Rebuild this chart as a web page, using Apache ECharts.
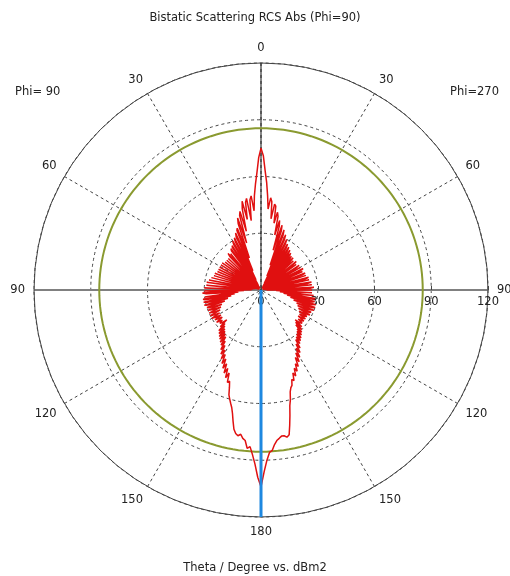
<!DOCTYPE html>
<html>
<head>
<meta charset="utf-8">
<script src="https://cdn.jsdelivr.net/npm/echarts@6/dist/echarts.min.js"></script>
<style>
  html, body { margin: 0; padding: 0; background: #fff; }
  #chart { width: 510px; height: 576px; }
</style>
</head>
<body>
<div id="chart"></div>
<script>
// Bistatic RCS cut, theta = 0..180 deg in 1 deg steps, dBm2 (radial axis 0..120)
// Right half of the plot: Phi = 270
const rcsPhi270 = [
  75, 71, 63, 57, 50, 43, 49, 47, 38, 46,
  45, 36, 42, 40, 30, 38, 35, 22, 36, 33,
  14, 34, 31, 8, 32, 29, 4, 30, 27, 2,
  28, 26, 3, 27, 25, 1, 26, 24, 2, 25,
  23, 1, 24, 22, 3, 24, 21, 1, 23, 22,
  2, 24, 21, 1, 23, 22, 3, 24, 22, 1,
  24, 23, 2, 25, 22, 1, 24, 23, 3, 25,
  23, 1, 25, 24, 2, 26, 24, 1, 26, 25,
  4, 27, 25, 2, 27, 26, 5, 28, 26, 3,
  27, 26, 8, 27, 26, 10, 28, 27, 12, 29,
  28, 14, 29, 28, 16, 30, 28, 18, 30, 29,
  20, 30, 28, 21, 29, 28, 22, 29, 27, 23,
  28, 27, 24, 28, 27, 24, 28, 27, 25, 28,
  27, 24, 29, 25, 30, 26, 31, 28, 32, 29,
  33, 30, 34, 31, 35, 32, 37, 34, 39, 36,
  41, 38, 43, 40, 45, 43, 47, 45, 49, 47,
  51, 50, 53, 54, 56, 60, 63, 68, 73, 78,
  79, 78, 78, 79, 80, 82, 85, 86, 90, 96,
  104
];
// Left half of the plot: Phi = 90
const rcsPhi90 = [
  75, 70, 62, 56, 50, 42, 50, 48, 37, 49,
  47, 38, 48, 44, 32, 43, 41, 26, 40, 37,
  18, 35, 34, 11, 33, 31, 6, 31, 29, 3,
  30, 28, 2, 28, 27, 4, 27, 26, 1, 26,
  25, 3, 26, 24, 2, 25, 24, 1, 25, 24,
  3, 25, 24, 2, 26, 25, 1, 26, 25, 3,
  26, 25, 2, 26, 25, 1, 26, 25, 4, 27,
  26, 2, 27, 26, 5, 28, 27, 3, 29, 28,
  6, 30, 29, 4, 30, 29, 8, 31, 30, 5,
  31, 30, 9, 31, 29, 12, 31, 30, 14, 31,
  30, 16, 31, 29, 18, 31, 29, 20, 30, 29,
  22, 30, 28, 23, 30, 28, 24, 30, 28, 25,
  30, 28, 25, 29, 27, 25, 29, 27, 26, 28,
  27, 24, 29, 26, 31, 27, 32, 28, 33, 29,
  34, 30, 35, 31, 36, 33, 38, 35, 40, 37,
  42, 39, 44, 41, 46, 43, 48, 45, 50, 47,
  52, 51, 54, 58, 60, 62, 64, 67, 71, 75,
  77, 78, 77, 79, 80, 84, 83, 87, 92, 99,
  104
];
// Constant reference level (olive circle) and incidence direction
const referenceLevel = 85.5;
const incidenceTheta = 180;
const radialTicks = [0, 30, 60, 90, 120];

const FONT = 'DejaVu Sans';
const TEXT = { fontFamily: FONT, fontSize: 11.5, fontWeight: 'normal', color: '#222' };

// Build the closed cut: left half from 180 up to 0, then right half from 0 down to 180
const cut = [];
for (let i = rcsPhi90.length - 1; i >= 0; i--) cut.push([rcsPhi90[i], 360 - i]);
for (let i = 1; i < rcsPhi270.length; i++) cut.push([rcsPhi270[i], i]);

const ring = [];
for (let a = 0; a <= 360; a += 2) ring.push([referenceLevel, a]);

const CENTER = [261, 290];
const RADIUS = 227;

const chart = echarts.init(document.getElementById('chart'), null, { renderer: 'canvas' });
chart.setOption({
  animation: false,
  backgroundColor: '#ffffff',
  title: [
    { text: 'Bistatic Scattering RCS Abs (Phi=90)', left: 'center', top: 7, textStyle: TEXT },
    { text: 'Theta / Degree vs. dBm2', left: 'center', top: 557, textStyle: TEXT },
    { text: 'Phi= 90', left: 10, top: 81, textStyle: TEXT },
    { text: 'Phi=270', right: 6, top: 81, textStyle: TEXT }
  ],
  polar: [
    { center: CENTER, radius: RADIUS },   // grid, angle labels, data
    { center: CENTER, radius: RADIUS },   // horizontal axis, radial labels, outer ring
    { center: CENTER, radius: RADIUS }    // vertical axis
  ],
  angleAxis: [
    {
      polarIndex: 0, type: 'value', min: 0, max: 360, interval: 30,
      startAngle: 90, clockwise: true, z: 0,
      axisLine: { show: false },
      axisTick: { show: false },
      axisLabel: {
        margin: 9, fontFamily: FONT, fontSize: 11.5, color: '#222',
        formatter: v => (v >= 360 ? '' : String(v <= 180 ? v : 360 - v))
      },
      splitLine: { show: true, lineStyle: { color: '#444', width: 1, type: [3, 3] } }
    },
    {
      polarIndex: 1, type: 'value', min: 0, max: 360, interval: 180,
      startAngle: 0, clockwise: true, z: 1,
      axisLine: { show: true, lineStyle: { color: '#444', width: 1 } },
      axisTick: { show: false }, axisLabel: { show: false },
      splitLine: { show: true, lineStyle: { color: '#808080', width: 2 } }
    },
    {
      polarIndex: 2, type: 'value', min: 0, max: 360, interval: 180,
      startAngle: 90, clockwise: true, z: 1,
      axisLine: { show: false }, axisTick: { show: false }, axisLabel: { show: false },
      splitLine: { show: true, lineStyle: { color: '#111', width: 1 } }
    }
  ],
  radiusAxis: [
    {
      polarIndex: 0, type: 'value', min: 0, max: 120, interval: 30, z: 0,
      axisLine: { show: false }, axisTick: { show: false }, axisLabel: { show: false },
      splitLine: { show: true, lineStyle: { color: '#444', width: 1, type: [3, 3] } }
    },
    {
      polarIndex: 1, type: 'value', min: 0, max: 120, interval: 30, z: 1,
      axisLine: { show: false },
      axisTick: { show: true, length: 4, inside: true, lineStyle: { color: '#444' } },
      axisLabel: {
        show: true, fontFamily: FONT, fontSize: 11.5, color: '#222',
        margin: -6, verticalAlign: 'top',
        formatter: v => (radialTicks.indexOf(v) >= 0 ? String(v) : '')
      },
      splitLine: { show: false }
    },
    {
      polarIndex: 2, type: 'value', min: 0, max: 120, interval: 30, z: 1,
      axisLine: { show: false }, axisTick: { show: false }, axisLabel: { show: false },
      splitLine: { show: false }
    }
  ],
  series: [
    {
      type: 'line', coordinateSystem: 'polar', polarIndex: 0,
      data: ring, symbol: 'none', silent: true, z: 3,
      lineStyle: { color: '#8a9a30', width: 2 }
    },
    {
      type: 'line', coordinateSystem: 'polar', polarIndex: 0,
      data: cut, symbol: 'none', silent: true, z: 4,
      lineStyle: { color: '#e01010', width: 1.5 }
    },
    {
      type: 'line', coordinateSystem: 'polar', polarIndex: 0,
      data: [[0, incidenceTheta], [120, incidenceTheta]], symbol: 'none', silent: true, z: 5,
      lineStyle: { color: '#1e88e0', width: 3 }
    }
  ]
});
</script>
</body>
</html>
